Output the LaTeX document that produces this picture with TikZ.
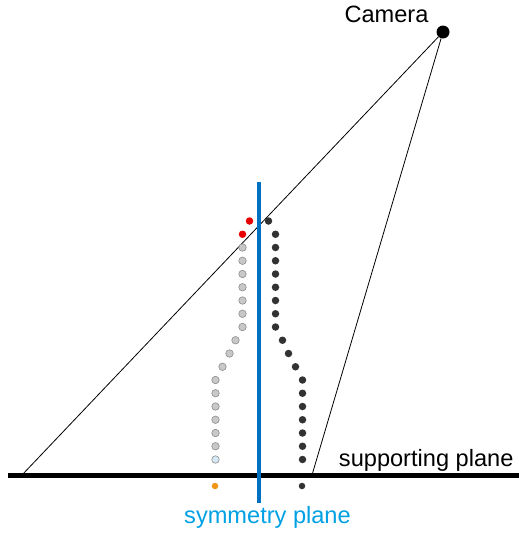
\documentclass[tikz,border=0pt]{standalone}
\usepackage{fontspec}
\setmainfont{Liberation Sans}
\usetikzlibrary{positioning}
\definecolor{symblue}{RGB}{0,112,192}
\definecolor{symtext}{RGB}{0,160,228}
\definecolor{ptgray}{RGB}{200,200,200}
\definecolor{ptdark}{RGB}{50,50,50}
\definecolor{ptred}{RGB}{232,0,0}
\definecolor{ptlight}{RGB}{214,232,246}
\definecolor{ptorange}{RGB}{240,150,20}

\begin{document}
\begin{tikzpicture}[x=1pt, y=-1pt,
    pt/.style={circle, inner sep=0pt, minimum size=7.5pt, fill=#1},
    ghost/.style={pt=#1, draw=gray!90, line width=0.6pt},
    ray/.style={line width=0.8pt},
    lbl/.style={font=\fontsize{23.6}{28}\selectfont}
]
\useasboundingbox (0,0) rectangle (519,536);

% camera and its rays
\node[pt=black, minimum size=13pt] (cam) at (443,32) {};
\node[lbl, anchor=base east] (camlbl) at (432,22.5) {Camera};
\coordinate (lfoot) at (22,475);
\coordinate (rfoot) at (312,475);
\draw[ray] (cam) -- (lfoot);
\draw[ray] (cam) -- (rfoot);

% supporting plane
\coordinate (gw) at (8,475);
\coordinate (ge) at (519,475);
\draw[line width=5pt] (gw) -- (ge);
\node[lbl, anchor=base east] (suplbl) at (517,466) {supporting plane};

% symmetry plane
\coordinate (stop) at (259,182);
\coordinate (sbot) at (259,503);
\draw[symblue, line width=3.5pt] (stop) -- (sbot);
\node[lbl, text=symtext, anchor=base] (symlbl) at (267.5,523) {symmetry plane};

% points and their mirror images
\foreach \d/\c [count=\k from 0] in {9.5/ptred,16.5/ptred,16.5/ptgray,16.5/ptgray,16.5/ptgray,16.5/ptgray,
    16.5/ptgray,16.5/ptgray,16.5/ptgray,23.5/ptgray,29.5/ptgray,36.5/ptgray,43.5/ptgray,43.5/ptgray,
    43.5/ptgray,43.5/ptgray,43.5/ptgray,43.5/ptgray,43.5/ptlight} {
  \node[pt=ptdark] (r\k) at (259+\d, 221+13.25*\k) {};
  \ifnum\k<2
    \node[pt=\c] (l\k) at (259-\d, 221+13.25*\k) {};
  \else
    \node[ghost=\c] (l\k) at (259-\d, 221+13.25*\k) {};
  \fi
}

% points below the supporting plane
\node[pt=ptorange, minimum size=6.5pt] (lbot) at (215,486) {};
\node[pt=ptdark, minimum size=6.5pt] (rbot) at (302,486) {};
\end{tikzpicture}
\end{document}
